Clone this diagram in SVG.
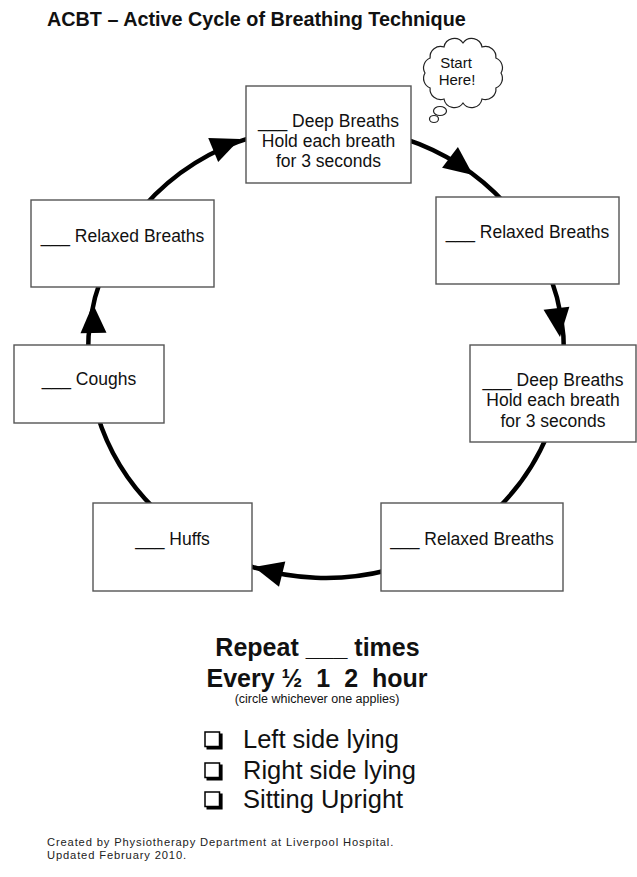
<svg xmlns="http://www.w3.org/2000/svg" xmlns:xlink="http://www.w3.org/1999/xlink" width="637" height="877" viewBox="0 0 637 877">
<style>
  .box { fill:#fff; stroke:#555; stroke-width:1.4; }
  .lbl { font-family:"Liberation Sans", Arial, sans-serif; font-size:17.5px; fill:#111; text-anchor:middle; }
  .conn { fill:none; stroke:#000; stroke-width:4.5; }
  .head { fill:#000; }
  .title { font-family:"Liberation Sans", Arial, sans-serif; font-size:19.8px; font-weight:bold; fill:#111; }
  .big { font-family:"Liberation Sans", Arial, sans-serif; font-size:25px; font-weight:bold; fill:#111; text-anchor:middle; }
  .small { font-family:"Liberation Sans", Arial, sans-serif; font-size:12.5px; fill:#111; text-anchor:middle; }
  .item { font-family:"Liberation Sans", Arial, sans-serif; font-size:25.5px; fill:#111; }
  .foot { font-family:"Liberation Sans", Arial, sans-serif; font-size:11.2px; letter-spacing:0.85px; fill:#222; }
  .cb { fill:#fff; stroke:#000; stroke-width:1.5; }
  .cbs { fill:none; stroke:#000; stroke-width:2.6; }
  .cloud { fill:#fff; stroke:#222; stroke-width:1.2; }
</style>
<defs>
  <path id="ah" class="head" d="M0,0 L-29,-13 L-29,13 Z"/>
</defs>

<text class="title" x="47" y="26">ACBT – Active Cycle of Breathing Technique</text>

<g id="connectors">
  <path class="conn" d="M403.5,138.3 A238,226 0 0 1 505.6,203.7"/>
  <path class="conn" d="M551,278.4 A238,226 0 0 1 564,356"/>
  <path class="conn" d="M548.2,433 A238,226 0 0 1 497.2,509"/>
  <path class="conn" d="M387.6,570.3 A238,226 0 0 1 244.6,564.4"/>
  <path class="conn" d="M154.8,509 A238,226 0 0 1 97.2,414.3"/>
  <path class="conn" d="M88,356 A238,226 0 0 1 101,278.4"/>
  <path class="conn" d="M143.7,206.7 A238,226 0 0 1 256.4,135.9"/>
  <use xlink:href="#ah" href="#ah" transform="translate(240,139) rotate(-22.5)"/>
  <use xlink:href="#ah" href="#ah" transform="translate(473,175) rotate(37.5)"/>
  <use xlink:href="#ah" href="#ah" transform="translate(560,337) rotate(83)"/>
  <use xlink:href="#ah" href="#ah" transform="translate(254,567) rotate(-166)"/>
  <use xlink:href="#ah" href="#ah" transform="translate(93,304) rotate(-91)"/>
</g>

<g id="start-here">
  <path class="cloud" d="M501,73 A10.5,10.5 0 0 1 495.9,88 A10.5,10.5 0 0 1 482,99 A10.5,10.5 0 0 1 463,103 A10.5,10.5 0 0 1 444,99 A10.5,10.5 0 0 1 430.1,88 A10.5,10.5 0 0 1 425,73 A10.5,10.5 0 0 1 430.1,58 A10.5,10.5 0 0 1 444,47 A10.5,10.5 0 0 1 463,43 A10.5,10.5 0 0 1 482,47 A10.5,10.5 0 0 1 495.9,58 A10.5,10.5 0 0 1 501,73 Z"/>
  <ellipse class="cloud" cx="440" cy="111" rx="6.5" ry="4.5"/>
  <ellipse class="cloud" cx="434" cy="119" rx="4.5" ry="3.5"/>
  <text class="lbl" style="font-size:15px" x="456" y="68">Start</text>
  <text class="lbl" style="font-size:15px" x="457" y="85">Here!</text>
</g>

<g id="deep1">
  <rect class="box" x="246" y="86" width="165" height="97"/>
  <text class="lbl" x="328.5" y="127">___ Deep Breaths</text>
  <text class="lbl" x="328.5" y="147">Hold each breath</text>
  <text class="lbl" x="328.5" y="167">for 3 seconds</text>
</g>

<g id="relaxed1">
  <rect class="box" x="436" y="197" width="183" height="87"/>
  <text class="lbl" x="527.5" y="238">___ Relaxed Breaths</text>
</g>

<g id="deep2">
  <rect class="box" x="470" y="345" width="166" height="97"/>
  <text class="lbl" x="553" y="385.5">___ Deep Breaths</text>
  <text class="lbl" x="553" y="406">Hold each breath</text>
  <text class="lbl" x="553" y="426.5">for 3 seconds</text>
</g>

<g id="relaxed2">
  <rect class="box" x="381" y="503" width="182" height="88"/>
  <text class="lbl" x="472" y="545">___ Relaxed Breaths</text>
</g>

<g id="huffs">
  <rect class="box" x="93" y="503" width="159" height="88"/>
  <text class="lbl" x="172.5" y="545">___ Huffs</text>
</g>

<g id="coughs">
  <rect class="box" x="14" y="345" width="150" height="78"/>
  <text class="lbl" x="89" y="385">___ Coughs</text>
</g>

<g id="relaxed3">
  <rect class="box" x="31" y="200" width="183" height="87"/>
  <text class="lbl" x="122.5" y="242">___ Relaxed Breaths</text>
</g>

<g id="instructions">
  <text class="big" x="317.5" y="656">Repeat ___ times</text>
  <text class="big" x="317" y="687" xml:space="preserve">Every ½  1  2  hour</text>
  <text class="small" x="317" y="703">(circle whichever one applies)</text>
</g>

<g id="checklist">
  <rect class="cb" x="205" y="732" width="14.5" height="14.5"/>
  <path class="cbs" d="M206.5,748.3 H221.3 V733.5"/>
  <text class="item" x="243" y="748">Left side lying</text>
  <rect class="cb" x="205" y="763" width="14.5" height="14.5"/>
  <path class="cbs" d="M206.5,779.3 H221.3 V764.5"/>
  <text class="item" x="243" y="779">Right side lying</text>
  <rect class="cb" x="205" y="792" width="14.5" height="14.5"/>
  <path class="cbs" d="M206.5,808.3 H221.3 V793.5"/>
  <text class="item" x="243" y="808">Sitting Upright</text>
</g>

<g id="footer">
  <text class="foot" x="47" y="846">Created by Physiotherapy Department at Liverpool Hospital.</text>
  <text class="foot" x="47" y="859">Updated February 2010.</text>
</g>
</svg>
